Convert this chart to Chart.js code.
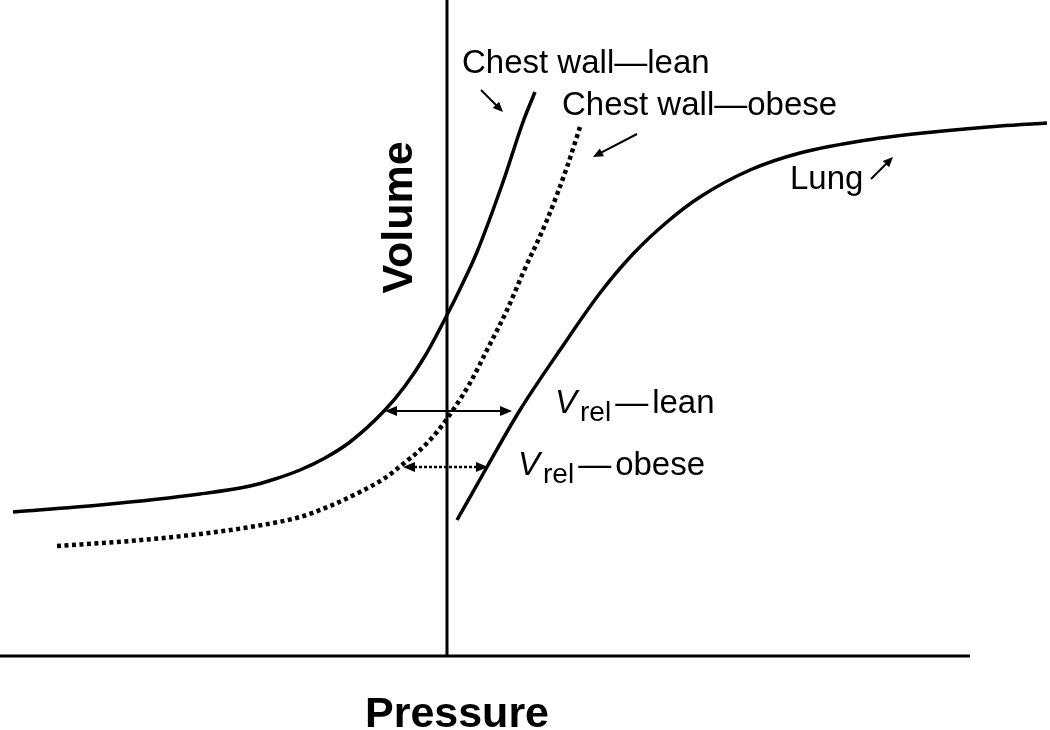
<!DOCTYPE html>
<html>
<head>
<meta charset="utf-8">
<script src="https://cdn.jsdelivr.net/npm/chart.js@4.4.1/dist/chart.umd.min.js"></script>
<style>
  html, body { margin: 0; padding: 0; background: #fff; }
  #wrap { width: 1050px; height: 730px; position: relative; }
</style>
</head>
<body>
<div id="wrap"><canvas id="c"></canvas></div>
<script>
// ---- Data (arbitrary pressure / volume units) ----
const leanPressure  = [-43.4, -34.7, -24.7, -19.7, -17.2, -14.7, -12.2, -9.7, -6.2, -4.2, -2.2, 0.0, 1.3, 3.0, 5.6, 7.6, 8.8];
const leanVolume    = [14.4, 15.1, 16.2, 17.0, 17.7, 18.6, 19.8, 21.4, 24.6, 27.0, 30.0, 34.1, 36.7, 40.4, 47.4, 53.4, 56.4];

const obesePressure = [-39.0, -31.7, -24.7, -19.7, -14.7, -11.7, -8.7, -6.2, -4.4, -2.7, -1.0, 0.6, 2.3, 4.0, 6.0, 7.6, 10.0, 12.0, 13.3];
const obeseVolume   = [11.0, 11.5, 12.2, 12.9, 13.9, 15.0, 16.4, 17.8, 19.2, 20.6, 22.4, 24.6, 27.3, 30.6, 34.6, 38.3, 43.6, 48.9, 52.9];

const lungPressure  = [1.0, 4.0, 7.3, 11.3, 15.3, 18.6, 22.0, 25.3, 30.3, 35.3, 42.0, 48.6, 55.3, 60.0];
const lungVolume    = [13.6, 18.9, 24.6, 30.6, 36.3, 40.2, 43.4, 45.9, 48.6, 50.3, 51.6, 52.4, 53.0, 53.3];

// Vrel (relaxation volume) double arrows: [pressure start, pressure end, volume]
const vrelLean  = [-6.2, 6.5, 24.5];
const vrelObese = [-4.4, 4.1, 18.9];

// Axis extents
const pressureAxis = [-44.7, 52.3];
const volumeAxis   = [0, 65.6];

// Labels
const labelLean  = "Chest wall\u2014lean";
const labelObese = "Chest wall\u2014obese";
const labelLung  = "Lung";
const xTitle = "Pressure";
const yTitle = "Volume";

const toPts = (xs, ys) => xs.map((x, i) => ({ x: x, y: ys[i] }));

// ---- Annotation layout (positions in data units) ----
const FONT = '"Liberation Sans", Arial, sans-serif';
const annot = {
  texts: [
    { t: labelLean,  x: 1.5,  y: 58.3 },
    { t: labelObese, x: 11.5, y: 54.1 },
    { t: labelLung,  x: 34.3, y: 46.7 }
  ],
  vrel: [
    { x: 10.8, y: 24.3, word: "lean" },
    { x: 7.1,  y: 18.1, word: "obese" }
  ],
  pointers: [
    [3.4, 56.6, 5.6, 54.4],
    [19.0, 52.2, 14.6, 49.9],
    [42.4, 47.7, 44.6, 49.9]
  ]
};

function arrowHead(ctx, x1, y1, x2, y2, len, half) {
  const a = Math.atan2(y2 - y1, x2 - x1);
  ctx.beginPath();
  ctx.moveTo(x2, y2);
  ctx.lineTo(x2 - len * Math.cos(a) + half * Math.sin(a), y2 - len * Math.sin(a) - half * Math.cos(a));
  ctx.lineTo(x2 - len * Math.cos(a) - half * Math.sin(a), y2 - len * Math.sin(a) + half * Math.cos(a));
  ctx.closePath();
  ctx.fill();
}

const annotPlugin = {
  id: 'annot',
  afterDatasetsDraw(chart) {
    const ctx = chart.ctx;
    const sx = chart.scales.x, sy = chart.scales.y;
    const X = v => sx.getPixelForValue(v), Y = v => sy.getPixelForValue(v);
    ctx.save();
    ctx.fillStyle = '#000';
    ctx.strokeStyle = '#000';

    // Vrel double arrows
    const drawDouble = (arr, dashed) => {
      const x1 = X(arr[0]), x2 = X(arr[1]), y = Y(arr[2]);
      ctx.lineWidth = dashed ? 2.5 : 2;
      ctx.setLineDash(dashed ? [3, 2] : []);
      ctx.beginPath();
      ctx.moveTo(x1 + 6, y); ctx.lineTo(x2 - 6, y);
      ctx.stroke();
      ctx.setLineDash([]);
      arrowHead(ctx, x2, y, x1, y, 12, 5);
      arrowHead(ctx, x1, y, x2, y, 12, 5);
    };
    drawDouble(vrelLean, false);
    drawDouble(vrelObese, true);

    // Pointer arrows
    ctx.lineWidth = 2;
    annot.pointers.forEach(p => {
      const x1 = X(p[0]), y1 = Y(p[1]), x2 = X(p[2]), y2 = Y(p[3]);
      const a = Math.atan2(y2 - y1, x2 - x1);
      ctx.beginPath();
      ctx.moveTo(x1, y1);
      ctx.lineTo(x2 - 6 * Math.cos(a), y2 - 6 * Math.sin(a));
      ctx.stroke();
      arrowHead(ctx, x1, y1, x2, y2, 10, 4.5);
    });

    // Curve labels
    ctx.textBaseline = 'alphabetic';
    ctx.textAlign = 'left';
    ctx.font = '33px ' + FONT;
    annot.texts.forEach(o => ctx.fillText(o.t, X(o.x), Y(o.y)));

    // V_rel labels
    annot.vrel.forEach(o => {
      let x = X(o.x); const y = Y(o.y);
      ctx.font = 'italic 33px ' + FONT;
      ctx.fillText('V', x, y);
      x += ctx.measureText('V').width + 3;
      ctx.font = '28px ' + FONT;
      ctx.fillText('rel', x, y + 8);
      x += ctx.measureText('rel').width + 4;
      ctx.font = '33px ' + FONT;
      ctx.fillText('\u2014', x, y);
      x += ctx.measureText('\u2014').width + 4;
      ctx.fillText(o.word, x, y);
    });

    // Axis titles
    ctx.font = 'bold 43px ' + FONT;
    ctx.textAlign = 'center';
    ctx.fillText(xTitle, X(1.0), Y(-7.1));
    ctx.save();
    ctx.translate(X(-3.5), Y(43.85));
    ctx.rotate(-Math.PI / 2);
    ctx.fillText(yTitle, 0, 0);
    ctx.restore();

    ctx.restore();
  }
};

const base = { pointRadius: 0, borderColor: '#000', fill: false, clip: false, cubicInterpolationMode: 'monotone' };

new Chart(document.getElementById('c'), {
  type: 'line',
  data: {
    datasets: [
      { ...base, label: 'x-axis', data: toPts(pressureAxis, [0, 0]), borderWidth: 3, cubicInterpolationMode: 'default', tension: 0 },
      { ...base, label: 'y-axis', data: toPts([0, 0], volumeAxis), borderWidth: 3, cubicInterpolationMode: 'default', tension: 0 },
      { ...base, label: labelLean, data: toPts(leanPressure, leanVolume), borderWidth: 3.5 },
      { ...base, label: labelObese, data: toPts(obesePressure, obeseVolume), borderWidth: 4.5, borderDash: [4, 3.5], borderCapStyle: 'butt' },
      { ...base, label: labelLung, data: toPts(lungPressure, lungVolume), borderWidth: 3.5 }
    ]
  },
  options: {
    responsive: true,
    maintainAspectRatio: false,
    animation: false,
    layout: { padding: 0 },
    plugins: { legend: { display: false }, tooltip: { enabled: false } },
    scales: {
      x: { type: 'linear', display: false, min: -44.7, max: 60.3 },
      y: { type: 'linear', display: false, min: -7.4, max: 65.6 }
    }
  },
  plugins: [annotPlugin]
});
</script>
</body>
</html>
